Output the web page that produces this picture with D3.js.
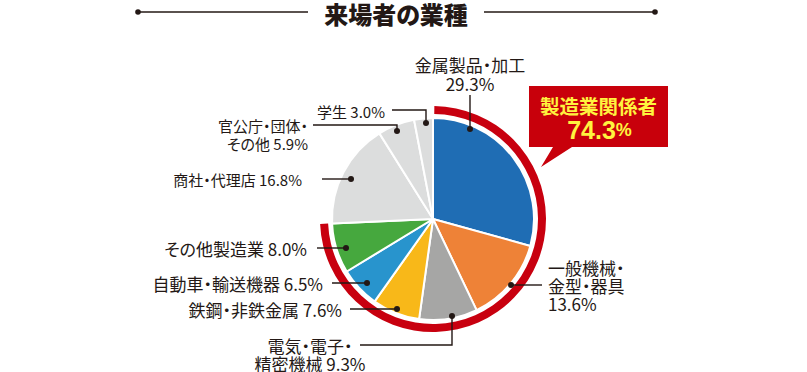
<!DOCTYPE html>
<html><head><meta charset="utf-8">
<script src="https://cdn.jsdelivr.net/npm/d3@7"></script>
<style>
html,body{margin:0;padding:0;background:#fff;}
svg{display:block;}
text{font-family:"Noto Sans CJK JP","Noto Sans",sans-serif;font-feature-settings:"palt";fill:#231815;}
</style></head>
<body>
<svg id="chart" width="807" height="372"></svg>
<script>
// ---- data ----
const title = "来場者の業種";
const categories = ["金属製品・加工","一般機械・金型・器具","電気・電子・精密機械","鉄鋼・非鉄金属","自動車・輸送機器","その他製造業","商社・代理店","官公庁・団体・その他","学生"];
const values = [29.3, 13.6, 9.3, 7.6, 6.5, 8.0, 16.8, 5.9, 3.0];
const manufacturingCount = 6;
const calloutLabel = "製造業関係者";
const calloutValue = "74.3";
const colors = ["#1f6db4","#ee8237","#a6a6a5","#f8b819","#2894cd","#46a83e","#dcdddd","#dcdddd","#dcdddd"];

// label lines (text) for each category
const labelLines = [
  ["金属製品・加工","29.3%"],
  ["一般機械・","金型・器具","13.6%"],
  ["電気・電子・","精密機械 9.3%"],
  ["鉄鋼・非鉄金属 7.6%"],
  ["自動車・輸送機器 6.5%"],
  ["その他製造業 8.0%"],
  ["商社・代理店 16.8%"],
  ["官公庁・団体・","その他 5.9%"],
  ["学生 3.0%"]
];

// ---- layout ----
const W = 807, H = 372;
const cx = 433, cy = 219, R = 101, ringIn = 105, ringOut = 113;
const svg = d3.select("#chart");

// label layout: text anchor, x, first-line y, line height, font size, leader polyline
const labelLayout = [
  {anchor:"middle", x:470, y:64, lh:19, fs:17, leader:[[470,95],[470,129]]},
  {anchor:"start", x:548, y:267, lh:18, fs:17, leader:[[542,285],[511,285]]},
  {anchor:"middle", x:310, y:345, lh:18, fs:17, leader:[[360,345],[452,345],[452,316]]},
  {anchor:"end", x:342, y:309, lh:18, fs:17, leader:[[350,309],[397,309]]},
  {anchor:"end", x:323, y:283, lh:18, fs:17, leader:[[332,283],[367,283]]},
  {anchor:"end", x:307, y:248, lh:18, fs:17, leader:[[317,248],[346,248]]},
  {anchor:"end", x:302, y:179, lh:18, fs:15, leader:[[322,179],[351,179]]},
  {anchor:"end", x:308, y:125, lh:18, fs:15, leader:[[313,125],[397,125],[397,131]]},
  {anchor:"end", x:385, y:111, lh:18, fs:15, leader:[[392,110],[426,110],[426,123]]}
];

// ---- title ----
const tg = svg.append("g");
tg.append("text").attr("x", 396).attr("y", 13).attr("text-anchor","middle")
  .attr("dominant-baseline","central").attr("font-size", 24).attr("font-weight", 900)
  .text(title);
tg.append("line").attr("x1",138).attr("x2",308).attr("y1",12).attr("y2",12).attr("stroke","#231815").attr("stroke-width",1.3);
tg.append("line").attr("x1",484).attr("x2",655).attr("y1",12).attr("y2",12).attr("stroke","#231815").attr("stroke-width",1.3);
tg.append("circle").attr("cx",138).attr("cy",12).attr("r",2.8).attr("fill","#231815");
tg.append("circle").attr("cx",655).attr("cy",12).attr("r",2.8).attr("fill","#231815");

// ---- pie ----
const pie = d3.pie().sort(null).value(d => d)(values);
const arc = d3.arc().innerRadius(0).outerRadius(R);
const g = svg.append("g").attr("transform", `translate(${cx},${cy})`);
g.selectAll("path.slice").data(pie).join("path")
  .attr("class","slice")
  .attr("d", arc)
  .attr("fill", (d,i) => colors[i])
  .attr("stroke", "#fff").attr("stroke-width", 2).attr("stroke-linejoin","round");

// ring over manufacturing
const manuTotal = d3.sum(values.slice(0, manufacturingCount));
const total = d3.sum(values);
const angle = d3.scaleLinear().domain([0, total]).range([0, 2*Math.PI]);
g.append("path")
  .attr("d", d3.arc().innerRadius(ringIn).outerRadius(ringOut)({startAngle: angle(0)+0.012, endAngle: angle(manuTotal)}))
  .attr("fill", "#c8000f");

// ---- labels ----
const lg = svg.append("g");
labelLayout.forEach((L, i) => {
  const t = lg.append("text").attr("text-anchor", L.anchor).attr("font-size", L.fs);
  labelLines[i].forEach((ln, k) => {
    t.append("tspan").attr("x", L.x).attr("y", L.y + k*L.lh).attr("dominant-baseline","central").text(ln);
  });
  lg.append("path").attr("d", d3.line()(L.leader)).attr("fill","none")
    .attr("stroke","#231815").attr("stroke-width",1.4);
  const end = L.leader[L.leader.length-1];
  lg.append("circle").attr("cx", end[0]).attr("cy", end[1]).attr("r", 3).attr("fill","#231815");
});

// ---- callout ----
const bx0 = 529, bx1 = 668, by0 = 86, by1 = 147;
const co = svg.append("g");
co.append("path")
  .attr("d", d3.line()([[bx0,by0],[bx1,by0],[bx1,by1],[572,by1],[541,167],[553,by1],[bx0,by1]]) + "Z")
  .attr("fill", "#c8000b");
co.append("text").attr("x", (bx0+bx1)/2).attr("y", 105).attr("text-anchor","middle")
  .attr("dominant-baseline","central").attr("font-size", 19.5).attr("font-weight", 700)
  .style("fill","#fff33f").text(calloutLabel);
const vt = co.append("text").attr("x", (bx0+bx1)/2 + 1).attr("y", 130).attr("text-anchor","middle")
  .attr("dominant-baseline","central").attr("font-weight", 700).style("fill","#fff33f")
  .style("font-family","'Liberation Sans','Noto Sans',sans-serif");
vt.append("tspan").attr("font-size", 25).text(calloutValue);
vt.append("tspan").attr("font-size", 18).text("%");
</script>
</body></html>
